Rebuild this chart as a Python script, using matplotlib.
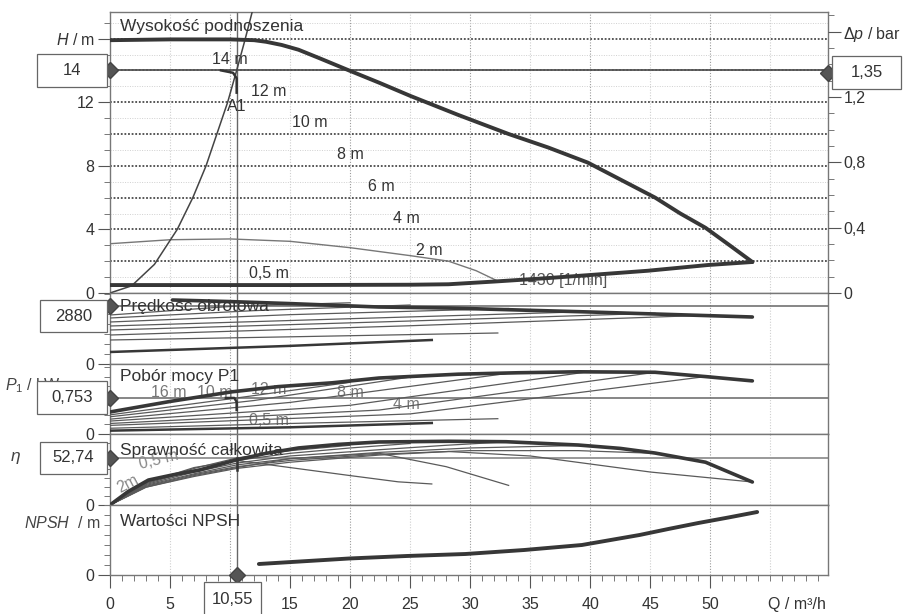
import matplotlib
matplotlib.use("Agg")
import matplotlib.pyplot as plt
from matplotlib.ticker import MultipleLocator, FixedLocator, FuncFormatter
from matplotlib.patches import Rectangle

plt.rcParams['font.family'] = ['Liberation Sans', 'DejaVu Sans']
plt.rcParams['mathtext.fontset'] = 'custom'
plt.rcParams['mathtext.it'] = 'Liberation Sans:italic'
plt.rcParams['mathtext.rm'] = 'Liberation Sans'

# ---------------- data ----------------
# operating point A1
op_Q = 10.55
op_H = 14
op_dp = 1.35
op_n = 2880
op_P = 0.753
op_eta = 52.74

# head: max curve, min curve (1430 1/min), thin 2 m curve, system curve
Q_max = [0, 5, 10, 12, 13, 14.3, 15.7, 17.5, 19.9, 22.5, 25, 29, 33.2, 36.5, 39.8,
         42.6, 45.4, 47.5, 49.6, 51.7, 53.5]
H_max = [15.9, 15.95, 15.95, 15.9, 15.8, 15.6, 15.3, 14.75, 14.0, 13.2, 12.4, 11.2,
         10.0, 9.15, 8.2, 7.1, 6.0, 5.0, 4.1, 2.95, 1.95]
Q_min = [0, 15, 25, 28.2, 32, 36.5, 40.5, 44.8, 49.8, 53.5]
H_min = [0.5, 0.5, 0.52, 0.55, 0.72, 0.94, 1.16, 1.4, 1.76, 1.95]
Q_thin = [0, 5, 10, 15, 20, 25, 28.2, 30.5, 32.3]
H_thin = [3.1, 3.35, 3.4, 3.25, 2.85, 2.35, 2.0, 1.4, 0.75]
Q_sys = [0, 1.8, 3.7, 5.6, 6.9, 8.0, 8.9, 9.8, 10.55, 11.2, 11.85]
H_sys = [0, 0.45, 1.8, 4.0, 6.0, 8.0, 10.0, 12.0, 14.0, 15.8, 17.7]

head_levels = ['14 m', '12 m', '10 m', '8 m', '6 m', '4 m', '2 m', '0,5 m']
head_label_Q = [10.0, 13.2, 16.6, 20.0, 22.6, 24.7, 26.6, 13.2]
head_label_H = [14.7, 12.7, 10.7, 8.7, 6.7, 4.7, 2.7, 1.2]

# speed / rpm
Q_n_max = [5.2, 10, 15, 22.4, 28.2, 40, 53.5]
n_max = [3178, 3100, 3000, 2830, 2780, 2582, 2334]
speed_Q = {
    '14 m': [0, 10.55, 20], '12 m': [0, 12, 25], '10 m': [0, 15, 33.2],
    '8 m': [0, 20, 39.8], '6 m': [0, 22.4, 45.4], '4 m': [0, 25, 49.6],
    '2 m': [0, 15, 32.3], '0,5 m': [0, 15, 26.8]}
speed_n = {
    '14 m': [2433, 2880, 3040], '12 m': [2284, 2650, 2930], '10 m': [2086, 2450, 2756],
    '8 m': [1887, 2250, 2600], '6 m': [1688, 2086, 2520], '4 m': [1440, 1900, 2420],
    '2 m': [1192, 1350, 1540], '0,5 m': [596, 900, 1192]}

# power P1 / kW
Q_P_max = [0, 5, 10.1, 14, 18.5, 22.4, 29, 34, 39, 45.4, 49.6, 53.5]
P_max = [0.46, 0.68, 0.88, 0.99, 1.07, 1.17, 1.25, 1.28, 1.30, 1.29, 1.20, 1.11]
power_Q = speed_Q
power_P = {
    '14 m': [0.40, 0.753, 1.08], '12 m': [0.36, 0.70, 1.19], '10 m': [0.31, 0.66, 1.27],
    '8 m': [0.27, 0.60, 1.30], '6 m': [0.22, 0.50, 1.29], '4 m': [0.18, 0.42, 1.20],
    '2 m': [0.12, 0.22, 0.32], '0,5 m': [0.07, 0.14, 0.23]}
power_labels = ['16 m', '10 m', '12 m', '8 m', '4 m', '0,5 m']
power_label_Q = [4.9, 8.7, 13.2, 20.0, 24.7, 13.2]
power_label_P = [0.86, 0.86, 0.93, 0.86, 0.61, 0.29]

# efficiency / %
Q_E_max = [0, 1.5, 3.2, 5.3, 7.4, 10.5, 13, 15.7, 19, 22.4, 28.2, 33, 39, 42.5, 45.4,
           49.6, 53.5]
E_max = [0, 15, 28, 34, 39, 50.5, 58, 64, 68, 70.7, 71.5, 71, 67.3, 63.5, 58.3, 48, 25.8]
eff_Q = {
    '14 m': [0, 3, 7, 10.55, 15, 20],
    '12 m': [0, 3, 7, 10.55, 15, 20, 25],
    '10 m': [0, 3, 7, 10.55, 15, 22.4, 28, 33.2],
    '8 m': [0, 3, 7, 10.55, 15, 22.4, 30, 39.8],
    '6 m': [0, 3, 7, 10.55, 15, 22.4, 30, 39, 45.4],
    '4 m': [0, 3, 7, 10.55, 15, 22.4, 28.2, 35, 45, 53.5],
    '2 m': [0, 3, 7, 10.55, 15, 22.4, 28, 33.2],
    '0,5 m': [0, 3, 7, 10.55, 15, 20, 24, 26.8]}
eff_E = {
    '14 m': [0, 25, 41, 52.74, 61, 67],
    '12 m': [0, 24, 39, 50, 58, 64, 69],
    '10 m': [0, 23, 37, 47, 55, 62, 67, 71],
    '8 m': [0, 22, 35, 45, 52, 59, 64, 67],
    '6 m': [0, 21, 34, 43, 50, 57, 61, 61, 58],
    '4 m': [0, 20, 32, 41, 48, 56, 60, 55, 37, 25.8],
    '2 m': [0, 20, 33, 42, 52, 58, 43, 22],
    '0,5 m': [0, 25, 42, 50, 42, 33, 26, 23.6]}

# NPSH / m
Q_npsh = [12.4, 19.9, 24.7, 29.6, 34.5, 39.3, 44.1, 46.5, 49.0, 51.5, 53.9]
npsh = [1.1, 1.65, 1.9, 2.1, 2.5, 3.0, 4.0, 4.6, 5.2, 5.75, 6.3]

x_ticks = [0, 5, 10, 15, 20, 25, 30, 35, 40, 45, 50]
x_tick_labels = ['0', '5', '', '15', '20', '25', '30', '35', '40', '45', '50']

# ---------------- layout ----------------
W, HH = 912, 614
fig = plt.figure(figsize=(W / 100, HH / 100), dpi=100)
fig.patch.set_facecolor('white')


def ax_at(x0, y0, x1, y1):
    return fig.add_axes([x0 / W, 1 - y1 / HH, (x1 - x0) / W, (y1 - y0) / HH])


XL, XR = 110, 828
Q_RIGHT = 59.8
axH = ax_at(XL, 12, XR, 293)
axN = ax_at(XL, 293, XR, 364)
axP = ax_at(XL, 364, XR, 434)
axE = ax_at(XL, 434, XR, 505)
axS = ax_at(XL, 505, XR, 575)
panels = [axH, axN, axP, axE, axS]

DARK = '#373737'
THIN = '#5a5a5a'
GRID = '#9a9a9a'
FS = 11.5

for ax in panels:
    ax.set_xlim(0, Q_RIGHT)
    for s in ax.spines.values():
        s.set_color('#777777')
        s.set_linewidth(1.0)
    ax.tick_params(axis='x', bottom=False, labelbottom=False)
    ax.tick_params(axis='y', which='major', direction='out', length=9, width=0.8,
                   color='#555555', labelsize=FS, pad=2, labelcolor='#333333')
    ax.tick_params(axis='y', which='minor', direction='out', length=4.5, width=0.7,
                   color='#777777')
    for q in range(5, 60, 5):
        ax.axvline(q, color=GRID if q % 10 == 0 else '#cfcfcf', lw=0.8,
                   ls=(0, (1, 1.5)), zorder=0)
    ax.axvline(op_Q, color='#666666', lw=1.0, zorder=1)

# ---- head panel ----
H_TOP = 281 / 15.9
axH.set_ylim(0, H_TOP)
axH.yaxis.set_major_locator(FixedLocator([0, 4, 8, 12, 16]))
axH.set_yticklabels(['0', '4', '8', '12', '$H$ / m'])
axH.yaxis.set_minor_locator(MultipleLocator(1))
for h in range(1, 18):
    if h % 2 == 0:
        axH.axhline(h, color='#4a4a4a', lw=1.3, ls=(0, (1, 1)), zorder=1)
    else:
        axH.axhline(h, color='#d0d0d0', lw=0.7, ls=(0, (1, 1.5)), zorder=0)
axH.axhline(op_H, color='#555555', lw=1.3, zorder=1)
axH.plot(Q_max, H_max, color=DARK, lw=2.8, solid_capstyle='round',
         solid_joinstyle='round', zorder=4)
axH.plot(Q_min, H_min, color=DARK, lw=2.8, solid_capstyle='round',
         solid_joinstyle='round', zorder=4)
axH.plot(Q_thin, H_thin, color='#777777', lw=1.0, zorder=3)
axH.plot(Q_sys, H_sys, color='#444444', lw=1.1, zorder=3, clip_on=True)
axH.plot([op_Q - 1.3, op_Q - 0.3, op_Q, op_Q], [op_H, op_H - 0.15, op_H - 0.5, op_H - 1.4],
         color='#333333', lw=1.8, zorder=5)
for lab, q, h in zip(head_levels, head_label_Q, head_label_H):
    axH.text(q, h, lab, fontsize=FS, color='#333333', ha='center', va='center', zorder=2)
axH.text(op_Q, 11.7, 'A1', fontsize=FS, color='#333333', ha='center', va='center')
axH.text(37.7, 0.8, '1430 [1/min]', fontsize=FS, color='#555555', ha='center',
         va='center', zorder=2)

axR = axH.twinx()
axR.set_ylim(0, 281 / 163.3)
axR.yaxis.set_major_locator(FixedLocator([0, 0.4, 0.8, 1.2, 1.6]))
axR.set_yticklabels(['0', '0,4', '0,8', '1,2', r'$\Delta p$ / bar'])
axR.yaxis.set_minor_locator(MultipleLocator(0.1))
axR.tick_params(axis='y', which='major', direction='out', length=9, width=0.8,
                color='#555555', labelsize=FS, pad=2, labelcolor='#333333')
axR.tick_params(axis='y', which='minor', direction='out', length=4.5, width=0.7,
                color='#777777')
for s in axR.spines.values():
    s.set_visible(False)

# ---- speed panel ----
N_TOP = 71 * 49.66
axN.set_ylim(0, N_TOP)
axN.yaxis.set_major_locator(FixedLocator([0]))
axN.yaxis.set_minor_locator(MultipleLocator(500))
axN.axhline(op_n, color='#666666', lw=1.1, zorder=1)
for k in head_levels:
    thick = k in ('0,5 m',)
    axN.plot(speed_Q[k], speed_n[k], color=DARK if thick else THIN,
             lw=1.8 if thick else 0.9, zorder=3)
axN.plot(Q_n_max, n_max, color=DARK, lw=2.6, solid_capstyle='round', zorder=4)

# ---- power panel ----
P_TOP = 70 * 0.0209
axP.set_ylim(0, P_TOP)
axP.yaxis.set_major_locator(FixedLocator([0]))
axP.yaxis.set_minor_locator(MultipleLocator(0.2))
axP.axhline(op_P, color='#666666', lw=1.1, zorder=1)
for lab, q, p in zip(power_labels, power_label_Q, power_label_P):
    axP.text(q, p, lab, fontsize=FS, color='#777777', ha='center', va='center', zorder=2)
for k in head_levels:
    thick = k in ('0,5 m',)
    axP.plot(power_Q[k], power_P[k], color=DARK if thick else THIN,
             lw=1.8 if thick else 0.9, zorder=3)
axP.plot(Q_P_max, P_max, color=DARK, lw=2.6, solid_capstyle='round',
         solid_joinstyle='round', zorder=4)
axP.plot([op_Q - 0.9, op_Q - 0.2, op_Q, op_Q], [op_P, op_P, op_P - 0.08, op_P - 0.25],
         color='#333333', lw=1.8, zorder=5)

# ---- efficiency panel ----
E_TOP = 71 * 1.122
axE.set_ylim(0, E_TOP)
axE.yaxis.set_major_locator(FixedLocator([0]))
axE.yaxis.set_minor_locator(MultipleLocator(10))
axE.axhline(op_eta, color='#999999', lw=1.4, zorder=1)
axE.text(4.1, 51, '0,5 m', fontsize=FS, color='#888888', ha='center', va='center',
         rotation=14, zorder=2)
axE.text(1.5, 24, '2m', fontsize=FS, color='#888888', ha='center', va='center',
         rotation=28, zorder=2)
for k in head_levels:
    axE.plot(eff_Q[k], eff_E[k], color=THIN, lw=0.9, zorder=3)
axE.plot(Q_E_max, E_max, color=DARK, lw=2.6, solid_capstyle='round',
         solid_joinstyle='round', zorder=4)
axE.plot([op_Q, op_Q], [op_eta, op_eta - 13], color='#333333', lw=1.8, zorder=5)

# ---- NPSH panel ----
axS.set_ylim(0, 7)
axS.yaxis.set_major_locator(FixedLocator([0]))
axS.yaxis.set_minor_locator(MultipleLocator(1))
axS.plot(Q_npsh, npsh, color=DARK, lw=2.8, solid_capstyle='round',
         solid_joinstyle='round', zorder=4)
axS.tick_params(axis='x', bottom=True, labelbottom=True, which='major', direction='out',
                length=9.5, width=0.8, color='#555555', labelsize=FS, pad=6,
                labelcolor='#333333')
axS.tick_params(axis='x', which='minor', bottom=True, direction='out', length=4,
                width=0.7, color='#777777')
axS.xaxis.set_major_locator(FixedLocator(x_ticks))
axS.set_xticklabels(x_tick_labels)
axS.xaxis.set_minor_locator(MultipleLocator(1))

# ---- titles ----
titles = [(axH, 'Wysokość podnoszenia', 26), (axN, 'Prędkość obrotowa', 306),
          (axP, 'Pobór mocy P1', 377), (axE, 'Sprawność całkowita', 450),
          (axS, 'Wartości NPSH', 521)]
for ax, t, ypx in titles:
    fig.text(120 / W, 1 - ypx / HH, t, fontsize=12.5, color='#333333', ha='left',
             va='center', zorder=6)

# ---- axis captions ----
fig.text(5 / W, 1 - 386 / HH, '$P_1$ / kW', fontsize=FS, color='#444444', ha='left',
         va='center', zorder=1)
fig.text(15 / W, 1 - 458 / HH, r'$\eta$', fontsize=FS + 1, color='#444444', ha='center',
         va='center')
fig.text(100 / W, 1 - 523 / HH, '$NPSH$  / m', fontsize=FS, color='#444444', ha='right',
         va='center')
fig.text(797 / W, 1 - 605 / HH, 'Q / m³/h', fontsize=FS, color='#333333', ha='center',
         va='center')


# ---- operating point markers and value boxes ----
def to_px(ax, x, y):
    X, Y = ax.transData.transform((x, y))
    return X, HH - Y


def value_box(cx, cy, w, h, txt):
    rect = Rectangle(((cx - w / 2) / W, 1 - (cy + h / 2) / HH), w / W, h / HH,
                     transform=fig.transFigure, facecolor='white', edgecolor='#666666',
                     lw=0.9, zorder=8)
    fig.add_artist(rect)
    fig.text(cx / W, 1 - cy / HH, txt, fontsize=FS + 0.5, color='#333333', ha='center',
             va='center', zorder=9)


mk = dict(marker='D', ms=8, color='#555555', mec='#444444', clip_on=False, zorder=10)
axH.plot([0], [op_H], **mk)
axN.plot([0], [op_n], **mk)
axP.plot([0], [op_P], **mk)
axE.plot([0], [op_eta], **mk)
axR.plot([Q_RIGHT], [op_dp], **mk)
axS.plot([op_Q], [0], **mk)

fig.canvas.draw()
_, y = to_px(axH, 0, op_H)
value_box(72, y, 70, 33, f"{op_H:g}")
_, y = to_px(axR, Q_RIGHT, op_dp)
value_box(867, y, 69, 33, f"{op_dp:g}".replace('.', ','))
_, y = to_px(axN, 0, op_n)
value_box(73.5, y + 10, 67, 32, f"{op_n:g}")
_, y = to_px(axP, 0, op_P)
value_box(72, y, 70, 33, f"{op_P:g}".replace('.', ','))
_, y = to_px(axE, 0, op_eta)
value_box(73.5, y, 67, 32, f"{op_eta:g}".replace('.', ','))
x, _ = to_px(axS, op_Q, 0)
value_box(x - 4, 600, 57, 36, f"{op_Q:g}".replace('.', ','))

fig.savefig('out.png', dpi=100, facecolor='white')
